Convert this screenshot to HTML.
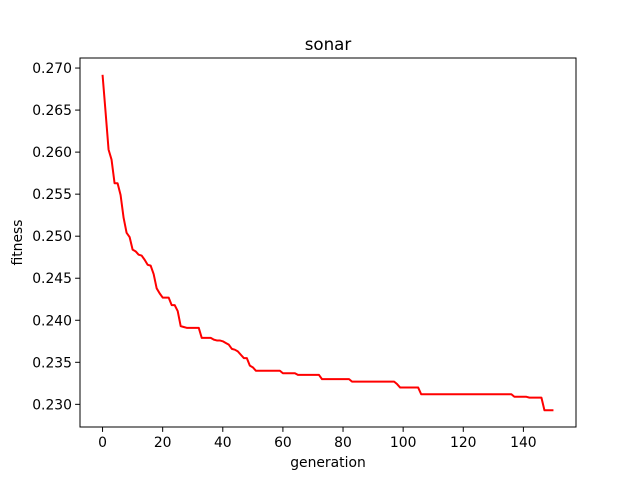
<!DOCTYPE html>
<html><head><meta charset="utf-8"><style>
body{margin:0;background:#fff;font-family:"DejaVu Sans","Liberation Sans",sans-serif}
</style></head><body>
<svg id="chart" width="640" height="480" viewBox="0 0 640 480" xmlns="http://www.w3.org/2000/svg" font-family="DejaVu Sans, Liberation Sans, sans-serif">
<rect width="640" height="480" fill="#fff"/>
<g id="plot"></g>
</svg>
<script>
const generations = [];
const fitness = [
0.2692,0.2648,0.2603,0.2591,0.2563,0.2563,0.2549,0.2522,0.2504,0.2499,
0.2484,0.2482,0.2478,0.2477,0.2472,0.2466,0.2465,0.2455,0.2438,0.2432,
0.2427,0.2427,0.2427,0.2418,0.2418,0.2411,0.2393,0.2392,0.2391,0.2391,
0.2391,0.2391,0.2391,0.2379,0.2379,0.2379,0.2379,0.2377,0.2376,0.2376,
0.2375,0.2373,0.2371,0.2366,0.2365,0.2363,0.2359,0.2355,0.2355,0.2346,
0.2344,0.2340,0.2340,0.2340,0.2340,0.2340,0.2340,0.2340,0.2340,0.2340,
0.2337,0.2337,0.2337,0.2337,0.2337,0.2335,0.2335,0.2335,0.2335,0.2335,
0.2335,0.2335,0.2335,0.2330,0.2330,0.2330,0.2330,0.2330,0.2330,0.2330,
0.2330,0.2330,0.2330,0.2327,0.2327,0.2327,0.2327,0.2327,0.2327,0.2327,
0.2327,0.2327,0.2327,0.2327,0.2327,0.2327,0.2327,0.2327,0.2324,0.2320,
0.2320,0.2320,0.2320,0.2320,0.2320,0.2320,0.2312,0.2312,0.2312,0.2312,
0.2312,0.2312,0.2312,0.2312,0.2312,0.2312,0.2312,0.2312,0.2312,0.2312,
0.2312,0.2312,0.2312,0.2312,0.2312,0.2312,0.2312,0.2312,0.2312,0.2312,
0.2312,0.2312,0.2312,0.2312,0.2312,0.2312,0.2312,0.2309,0.2309,0.2309,
0.2309,0.2309,0.2308,0.2308,0.2308,0.2308,0.2308,0.2293,0.2293,0.2293,
0.2293];
for (let i = 0; i < fitness.length; i++) generations.push(i);
const xTicks = [0,20,40,60,80,100,120,140];
const yTicks = [0.230,0.235,0.240,0.245,0.250,0.255,0.260,0.265,0.270];
const yTickLabels = ["0.230","0.235","0.240","0.245","0.250","0.255","0.260","0.265","0.270"];

const L=80,R=576,T=58,B=427;
const xMin=Math.min(...generations),xMax=Math.max(...generations);
const yMin=Math.min(...fitness),yMax=Math.max(...fitness);
const xl=xMin-(xMax-xMin)*0.05,xh=xMax+(xMax-xMin)*0.05;
const yl=yMin-(yMax-yMin)*0.05,yh=yMax+(yMax-yMin)*0.05;
const sx=v=>L+(v-xl)/(xh-xl)*(R-L);
const sy=v=>B-(v-yl)/(yh-yl)*(B-T);
const NS="http://www.w3.org/2000/svg";
const g=document.getElementById('plot');
function mk(tag,attrs,text){const e=document.createElementNS(NS,tag);for(const k in attrs)e.setAttribute(k,attrs[k]);if(text!==undefined)e.textContent=text;g.appendChild(e);return e;}

const line=mk('polyline',{points:generations.map((x,i)=>sx(x).toFixed(2)+','+sy(fitness[i]).toFixed(2)).join(' '),fill:'none',stroke:'#ff0000','stroke-width':2,'stroke-linejoin':'round'});



const frame=mk('rect',{x:L,y:T,width:R-L,height:B-T,fill:'none',stroke:'#000','stroke-width':1});



xTicks.forEach(t=>{
  const x=sx(t);
  const tk=mk('line',{x1:x,x2:x,y1:B,y2:B+4.9,stroke:'#000','stroke-width':1});
  
  
  const lb=mk('text',{x:x,y:B+20,'text-anchor':'middle','font-size':13.9,fill:'#000'},String(t));
  
  
});
yTicks.forEach((t,i)=>{
  const y=sy(t);
  const tk=mk('line',{x1:L-4.9,x2:L,y1:y,y2:y,stroke:'#000','stroke-width':1});
  
  
  const lb=mk('text',{x:L-8,y:y+5,'text-anchor':'end','font-size':13.9,fill:'#000'},yTickLabels[i]);
  
  
});
const title=mk('text',{x:(L+R)/2,y:T-8,'text-anchor':'middle','font-size':16.7,fill:'#000'},'sonar');


const xt=mk('text',{x:(L+R)/2,y:467,'text-anchor':'middle','font-size':13.9,fill:'#000'},'generation');


const yx=22,ym=(T+B)/2;
const yt=mk('text',{x:yx,y:ym,'text-anchor':'middle','font-size':13.9,fill:'#000',transform:'rotate(-90 '+yx+' '+ym+')'},'fitness');


</script>
</body></html>
